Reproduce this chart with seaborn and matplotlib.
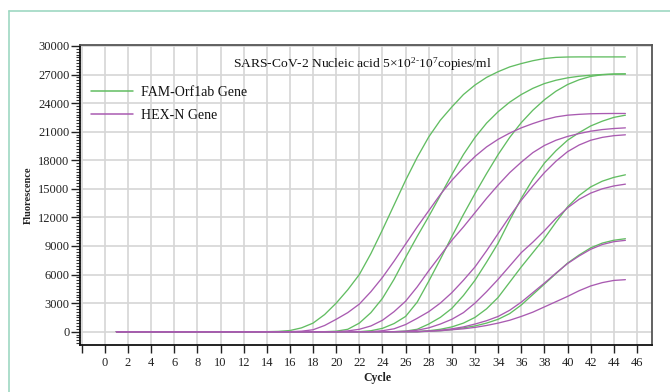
import matplotlib
matplotlib.use("Agg")
import matplotlib.pyplot as plt
import seaborn as sns
import pandas as pd
from matplotlib.lines import Line2D
from matplotlib.ticker import MultipleLocator

# ---------------- data ----------------
cycles = list(range(1, 46))

fam_1 = [0, 0, 0, 0, 0, 0, 0, 0, 0, 0, 0, 0, 0, 0,
         30, 120, 400, 900, 1800, 3000, 4400, 6000, 8200, 10700, 13300, 15900,
         18300, 20450, 22200, 23600, 24900, 25900, 26700, 27300, 27800, 28150,
         28450, 28680, 28800, 28840, 28850, 28850, 28850, 28850, 28850]
fam_2 = [0, 0, 0, 0, 0, 0, 0, 0, 0, 0, 0, 0, 0, 0, 0, 0, 0, 0, 0,
         50, 250, 900, 2000, 3500, 5500, 7800, 10000, 12100, 14300, 16500,
         18600, 20400, 21900, 23100, 24100, 24900, 25550, 26050, 26400, 26650,
         26820, 26930, 27000, 27040, 27060]
fam_3 = [0, 0, 0, 0, 0, 0, 0, 0, 0, 0, 0, 0, 0, 0, 0, 0, 0, 0, 0, 0, 0, 0,
         100, 350, 850, 1600, 3100, 5300, 7600, 10000, 12300, 14500, 16600,
         18600, 20400, 21950, 23250, 24350, 25250, 25950, 26450, 26800, 26980,
         27050, 27060]
fam_4 = [0, 0, 0, 0, 0, 0, 0, 0, 0, 0, 0, 0, 0, 0, 0, 0, 0, 0, 0, 0, 0, 0, 0, 0, 0,
         60, 250, 800, 1500, 2450, 3800, 5400, 7300, 9300, 11700, 14000, 16000,
         17700, 19000, 20100, 20900, 21600, 22100, 22500, 22730]
fam_5 = [0, 0, 0, 0, 0, 0, 0, 0, 0, 0, 0, 0, 0, 0, 0, 0, 0, 0, 0, 0, 0, 0, 0, 0, 0, 0, 0,
         100, 250, 500, 900, 1500, 2400, 3600, 5200, 6800, 8300, 9800, 11500,
         13100, 14300, 15200, 15800, 16200, 16470]
fam_6 = [0, 0, 0, 0, 0, 0, 0, 0, 0, 0, 0, 0, 0, 0, 0, 0, 0, 0, 0, 0, 0, 0, 0, 0, 0, 0, 0,
         40, 100, 220, 400, 600, 900, 1300, 1900, 2800, 3900, 5000, 6100, 7200,
         8050, 8800, 9300, 9600, 9760]

hex_1 = [0, 0, 0, 0, 0, 0, 0, 0, 0, 0, 0, 0, 0, 0, 0, 0,
         50, 200, 650, 1300, 2000, 2900, 4200, 5700, 7400, 9200, 11000, 12700,
         14400, 15900, 17200, 18400, 19400, 20200, 20850, 21400, 21850, 22250,
         22550, 22730, 22820, 22880, 22900, 22910, 22910]
hex_2 = [0, 0, 0, 0, 0, 0, 0, 0, 0, 0, 0, 0, 0, 0, 0, 0, 0, 0, 0, 0,
         80, 250, 600, 1200, 2100, 3200, 4700, 6400, 8000, 9600, 11000, 12500,
         14000, 15400, 16700, 17800, 18800, 19550, 20100, 20500, 20800, 21050,
         21220, 21330, 21400]
hex_3 = [0, 0, 0, 0, 0, 0, 0, 0, 0, 0, 0, 0, 0, 0, 0, 0, 0, 0, 0, 0, 0, 0, 0,
         100, 300, 750, 1400, 2100, 3000, 4100, 5400, 6800, 8500, 10300, 12100,
         13800, 15300, 16700, 17900, 18900, 19600, 20100, 20400, 20580, 20670]
hex_4 = [0, 0, 0, 0, 0, 0, 0, 0, 0, 0, 0, 0, 0, 0, 0, 0, 0, 0, 0, 0, 0, 0, 0, 0, 0,
         50, 150, 400, 800, 1300, 2000, 3000, 4200, 5500, 6900, 8300, 9400,
         10600, 11900, 13000, 13900, 14550, 15000, 15300, 15490]
hex_5 = [0, 0, 0, 0, 0, 0, 0, 0, 0, 0, 0, 0, 0, 0, 0, 0, 0, 0, 0, 0, 0, 0, 0, 0, 0, 0, 0,
         60, 150, 300, 500, 800, 1150, 1600, 2250, 3100, 4100, 5100, 6150, 7150,
         7950, 8650, 9150, 9450, 9590]
hex_6 = [0, 0, 0, 0, 0, 0, 0, 0, 0, 0, 0, 0, 0, 0, 0, 0, 0, 0, 0, 0, 0, 0, 0, 0, 0, 0, 0,
         50, 100, 200, 300, 450, 650, 900, 1200, 1600, 2050, 2600, 3150, 3700,
         4300, 4800, 5150, 5380, 5460]

gene_labels = ["FAM-Orf1ab Gene", "HEX-N Gene"]
x_ticks = list(range(-2, 48, 2))
x_tick_labels = [""] + [str(v) for v in range(0, 48, 2)]
y_ticks = list(range(0, 30001, 3000))
title_text = r"SARS-CoV-2 Nucleic acid 5×10$^{2\text{-}}$10$^{7}$copies/ml"

fam_series = [fam_1, fam_2, fam_3, fam_4, fam_5, fam_6]
hex_series = [hex_1, hex_2, hex_3, hex_4, hex_5, hex_6]

rows = []
for i, s in enumerate(fam_series):
    for c, v in zip(cycles, s):
        rows.append({"cycle": c, "fluor": v, "gene": gene_labels[0], "sample": f"F{i}"})
for i, s in enumerate(hex_series):
    for c, v in zip(cycles, s):
        rows.append({"cycle": c, "fluor": v, "gene": gene_labels[1], "sample": f"H{i}"})
df = pd.DataFrame(rows)

# ---------------- style ----------------
sns.set_style("white")
plt.rcParams["font.family"] = ["Liberation Serif", "DejaVu Serif"]
plt.rcParams["mathtext.fontset"] = "custom"
plt.rcParams["mathtext.rm"] = "Liberation Serif"
plt.rcParams["mathtext.it"] = "Liberation Serif"

GREEN = "#62bd62"
PURPLE = "#a95bb1"

fig = plt.figure(figsize=(6.70, 3.92), dpi=100)
ax = fig.add_axes([80 / 670, 1 - 345 / 392, 572 / 670, 300 / 392])

# outer panel border (teal)
fig.add_artist(Line2D([9 / 670, 1.0], [1 - 11 / 392, 1 - 11 / 392],
                      transform=fig.transFigure, color="#9ed8c2", lw=1.2))
fig.add_artist(Line2D([9 / 670, 9 / 670], [0, 1 - 11 / 392],
                      transform=fig.transFigure, color="#9ed8c2", lw=1.2))

sns.lineplot(data=df, x="cycle", y="fluor", hue="gene", units="sample",
             estimator=None, palette={gene_labels[0]: GREEN, gene_labels[1]: PURPLE},
             linewidth=0.95, ax=ax, legend=False, sort=False)

ax.set_xlim(-2.15, 47.3)
ax.set_ylim(-1400, 30100)
ax.set_xticks(x_ticks)
ax.set_xticklabels(x_tick_labels)
ax.set_yticks(y_ticks)
ax.yaxis.set_minor_locator(MultipleLocator(300))

ax.grid(True, which="major", color="#d6d6d6", linewidth=1.2)
ax.set_axisbelow(True)

ax.tick_params(axis="x", which="major", direction="out", length=5.5, width=1.0,
               labelsize=9, pad=3, color="#222222", bottom=True)
ax.tick_params(axis="y", which="major", direction="out", length=6.5, width=1.0,
               labelsize=9, pad=1, color="#222222", left=True)
ax.tick_params(axis="y", which="minor", direction="out", length=3.0, width=0.8,
               color="#333333", left=True)
for lbl in ax.get_xticklabels() + ax.get_yticklabels():
    lbl.set_color("#222222")

for side in ["left", "bottom"]:
    ax.spines[side].set_color("#111111")
    ax.spines[side].set_linewidth(1.3)
for side in ["top", "right"]:
    ax.spines[side].set_color("#555555")
    ax.spines[side].set_linewidth(1.3)

ax.set_xlabel("Cycle", fontsize=8.5, labelpad=1, fontweight="bold", color="#222222")
ax.xaxis.set_label_coords(0.52, -0.09)
ax.set_ylabel("Fluorescence", fontsize=7.5, labelpad=4, fontweight="bold", color="#222222")

ax.text(0.493, 0.935, title_text, transform=ax.transAxes, ha="center", va="center",
        fontsize=9.7, color="#111111")

handles = [Line2D([], [], color=GREEN, lw=1.1), Line2D([], [], color=PURPLE, lw=1.1)]
leg = ax.legend(handles, gene_labels, loc="upper left", bbox_to_anchor=(-0.005, 0.91),
                frameon=False, fontsize=10, handlelength=3.0, handletextpad=0.6,
                labelspacing=0.72, borderaxespad=0.6)
for t in leg.get_texts():
    t.set_color("#111111")

fig.savefig("out.png", dpi=100)
